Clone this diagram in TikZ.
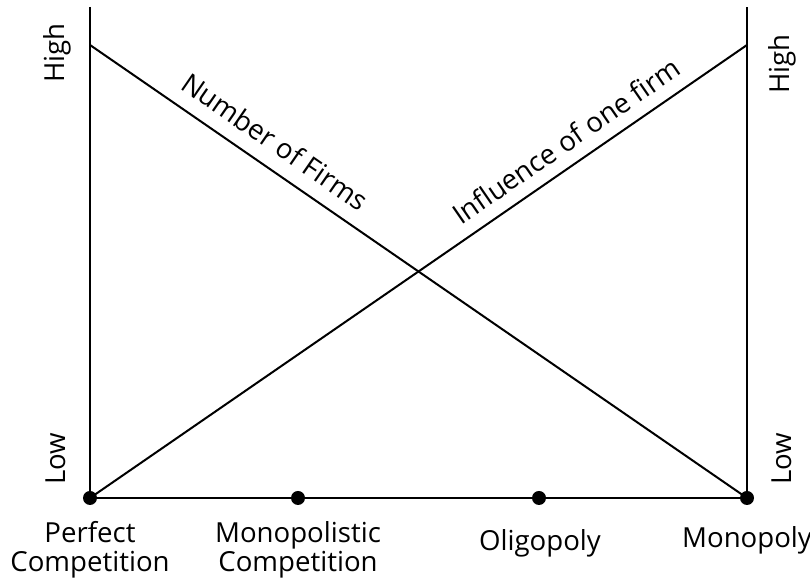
\documentclass[tikz,border=0pt]{standalone}
\usepackage{fontspec}
\setmainfont{Open Sans}
\usetikzlibrary{positioning}
\begin{document}
\begin{tikzpicture}[x=.5pt,y=.5pt,line width=1pt,
  dot/.style={circle,fill,inner sep=0pt,minimum size=7pt},
  lab/.style={font=\fontsize{13.8}{14.5}\selectfont,align=center}]
\useasboundingbox (0,0) rectangle (810,582);
\coordinate (ltop) at (90,575);
\coordinate (rtop) at (747,575);
\coordinate (lhigh) at (90,537);
\coordinate (rhigh) at (747,537);
\draw (ltop) -- (90,84) -- (747,84) -- (rtop);
\draw (lhigh) -- node[lab,sloped,above,pos=.26,inner sep=7pt] {Number of Firms} (747,84);
\draw (90,84) -- node[lab,sloped,above,pos=.745,inner sep=6pt] {Influence of one firm} (rhigh);
\node[dot] (pc) at (90,84) {};
\node[dot] (mc) at (298,84) {};
\node[dot] (ol) at (539,84) {};
\node[dot] (mo) at (747,84) {};
\node[lab,rotate=90] (lhi) at (57,529) {High};
\node[lab,rotate=90] (llo) at (56,123) {Low};
\node[lab,rotate=90] (rhi) at (782,518) {High};
\node[lab,rotate=90] (rlo) at (782,123) {Low};
\node[lab,below=4pt of pc] (pcl) {Perfect\\Competition};
\node[lab,below=4pt of mc] (mcl) {Monopolistic\\Competition};
\node[lab] (oll) at (540,39) {Oligopoly};
\node[lab] (mol) at (747,42) {Monopoly};
\end{tikzpicture}
\end{document}
